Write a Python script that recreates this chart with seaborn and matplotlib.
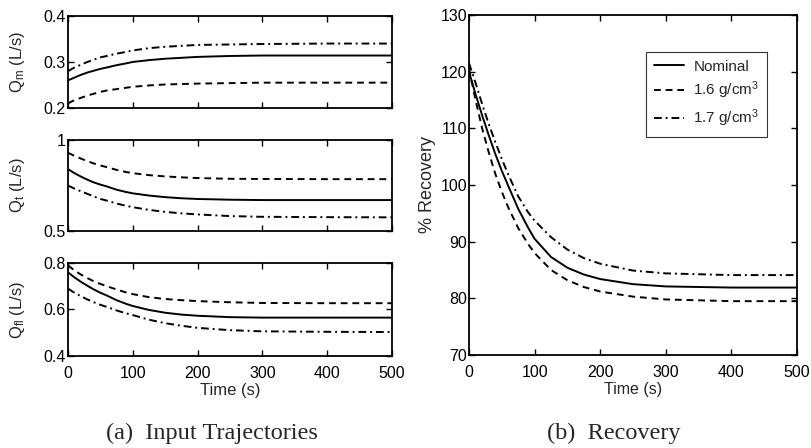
import numpy as np
import pandas as pd
import matplotlib
matplotlib.use("Agg")
import matplotlib.pyplot as plt
import seaborn as sns

# ---------------- data ----------------
time = [0, 10, 20, 30, 40, 50, 60, 75, 90, 100, 125, 150, 175, 200, 250, 300, 400, 500]
series = ["Nominal", "1.6 g/cm$^3$", "1.7 g/cm$^3$"]

qm_nom = [0.260, 0.266, 0.272, 0.277, 0.281, 0.285, 0.288, 0.293, 0.297, 0.300, 0.304, 0.307, 0.309, 0.311, 0.313, 0.314, 0.314, 0.314]
qm_16 = [0.210, 0.217, 0.222, 0.227, 0.231, 0.235, 0.238, 0.241, 0.244, 0.246, 0.249, 0.251, 0.252, 0.253, 0.254, 0.255, 0.255, 0.255]
qm_17 = [0.280, 0.288, 0.294, 0.300, 0.305, 0.310, 0.313, 0.318, 0.322, 0.325, 0.330, 0.333, 0.335, 0.337, 0.338, 0.339, 0.340, 0.340]

qt_nom = [0.840, 0.818, 0.799, 0.782, 0.767, 0.755, 0.745, 0.727, 0.714, 0.707, 0.695, 0.686, 0.680, 0.676, 0.672, 0.670, 0.670, 0.670]
qt_16 = [0.930, 0.913, 0.898, 0.884, 0.871, 0.860, 0.851, 0.836, 0.824, 0.818, 0.807, 0.800, 0.795, 0.791, 0.787, 0.786, 0.785, 0.785]
qt_17 = [0.750, 0.733, 0.718, 0.704, 0.690, 0.676, 0.667, 0.651, 0.638, 0.631, 0.616, 0.605, 0.597, 0.591, 0.582, 0.578, 0.576, 0.575]

qf_nom = [0.760, 0.738, 0.719, 0.702, 0.686, 0.672, 0.660, 0.640, 0.624, 0.615, 0.598, 0.586, 0.578, 0.573, 0.567, 0.565, 0.565, 0.565]
qf_16 = [0.790, 0.768, 0.750, 0.735, 0.721, 0.710, 0.700, 0.686, 0.673, 0.666, 0.653, 0.645, 0.640, 0.636, 0.631, 0.628, 0.627, 0.627]
qf_17 = [0.690, 0.672, 0.657, 0.643, 0.631, 0.620, 0.611, 0.596, 0.583, 0.576, 0.556, 0.541, 0.530, 0.521, 0.511, 0.506, 0.504, 0.503]

rec_nom = [120.0, 116.0, 112.3, 108.8, 105.5, 102.5, 99.8, 95.8, 92.5, 90.5, 87.3, 85.4, 84.2, 83.4, 82.5, 82.1, 81.9, 81.9]
rec_16 = [120.5, 115.0, 110.0, 105.8, 102.0, 98.8, 96.0, 92.4, 89.6, 88.0, 85.0, 83.2, 82.0, 81.2, 80.3, 79.8, 79.5, 79.5]
rec_17 = [121.5, 118.0, 114.3, 110.8, 107.6, 104.6, 101.8, 98.0, 95.2, 93.7, 90.8, 88.6, 87.1, 86.1, 84.9, 84.4, 84.1, 84.1]

x_ticks = [0, 100, 200, 300, 400, 500]
qm_ticks = [0.2, 0.3, 0.4]
qt_ticks = [0.5, 1.0]
qf_ticks = [0.4, 0.6, 0.8]
rec_ticks = [70, 80, 90, 100, 110, 120, 130]

# ---------------- style ----------------
sns.set_theme(style="ticks")
sans = ["Liberation Sans", "DejaVu Sans"]
plt.rcParams["font.family"] = sans
plt.rcParams["mathtext.fontset"] = "custom"
plt.rcParams["mathtext.rm"] = "Liberation Sans"
plt.rcParams["mathtext.it"] = "Liberation Sans:italic"
plt.rcParams["xtick.direction"] = "in"
plt.rcParams["ytick.direction"] = "in"

styles = {series[0]: "-", series[1]: (0, (3.5, 2.5)), series[2]: (0, (4, 2, 1, 2))}

TICK_FS = 11.5


def make_df(a, b, c):
    return pd.DataFrame({
        "time": time * 3,
        "value": a + b + c,
        "series": [series[0]] * len(time) + [series[1]] * len(time) + [series[2]] * len(time),
    })


def draw(ax, df, legend=False):
    for s in series:
        sub = df[df["series"] == s]
        sns.lineplot(data=sub, x="time", y="value", ax=ax, color="black",
                     linewidth=1.4, label=s if legend else None)
        ax.get_lines()[-1].set_linestyle(styles[s])
    ax.set_xlim(0, 500)
    ax.set_xticks(x_ticks)
    ax.tick_params(top=True, right=True, labelsize=TICK_FS, length=4, width=1,
                   colors="black")
    ax.tick_params(axis="y", pad=1.5)
    ax.tick_params(axis="x", pad=7)
    for sp in ax.spines.values():
        sp.set_visible(True)
        sp.set_color("black")
        sp.set_linewidth(1.3)
    ax.set_facecolor("white")


fig = plt.figure(figsize=(8.11, 4.48), dpi=100)
fig.patch.set_facecolor("white")

ax1 = fig.add_axes([0.0838, 0.759, 0.3995, 0.2054])
ax2 = fig.add_axes([0.0838, 0.4844, 0.3995, 0.203])
ax3 = fig.add_axes([0.0838, 0.2054, 0.3995, 0.2076])
ax4 = fig.add_axes([0.5783, 0.2076, 0.4044, 0.759])

draw(ax1, make_df(qm_nom, qm_16, qm_17))
ax1.set_ylim(0.2, 0.4)
ax1.set_yticks(qm_ticks)
ax1.set_yticklabels(["0.2", "0.3", "0.4"])
ax1.set_xticklabels([])
ax1.set_xlabel("")
ax1.set_ylabel(r"Q$_{\mathrm{m}}$ (L/s)", fontsize=12)

draw(ax2, make_df(qt_nom, qt_16, qt_17))
ax2.set_ylim(0.5, 1.0)
ax2.set_yticks(qt_ticks)
ax2.set_yticklabels(["0.5", "1"])
ax2.set_xticklabels([])
ax2.set_xlabel("")
ax2.set_ylabel(r"Q$_{\mathrm{t}}$ (L/s)", fontsize=12)

draw(ax3, make_df(qf_nom, qf_16, qf_17))
ax3.set_ylim(0.4, 0.8)
ax3.set_yticks(qf_ticks)
ax3.set_yticklabels(["0.4", "0.6", "0.8"])
ax3.set_xlabel("Time (s)", fontsize=12, labelpad=2)
ax3.set_ylabel(r"Q$_{\mathrm{fl}}$ (L/s)", fontsize=12)

for a in (ax1, ax2, ax3):
    a.yaxis.set_label_coords(-0.125, 0.5)

draw(ax4, make_df(rec_nom, rec_16, rec_17), legend=True)
ax4.set_ylim(70, 130)
ax4.set_yticks(rec_ticks)
ax4.set_xlabel("Time (s)", fontsize=11.5, labelpad=2)
ax4.set_ylabel("% Recovery", fontsize=13, labelpad=3)
leg = ax4.legend(loc="upper left", bbox_to_anchor=(0.54, 0.891), fontsize=11,
                 frameon=True, fancybox=False, edgecolor="black",
                 handlelength=2.0, handletextpad=0.6, borderpad=0.5,
                 labelspacing=0.4, borderaxespad=0)
leg.get_frame().set_linewidth(0.8)

serif = ["Liberation Serif", "DejaVu Serif"]
fig.text(0.2614, 0.032, "(a)  Input Trajectories", ha="center", va="center",
         fontsize=17.5, family=serif)
fig.text(0.757, 0.032, "(b)  Recovery", ha="center", va="center",
         fontsize=17.5, family=serif)

fig.savefig("out.png", dpi=100, facecolor="white")
